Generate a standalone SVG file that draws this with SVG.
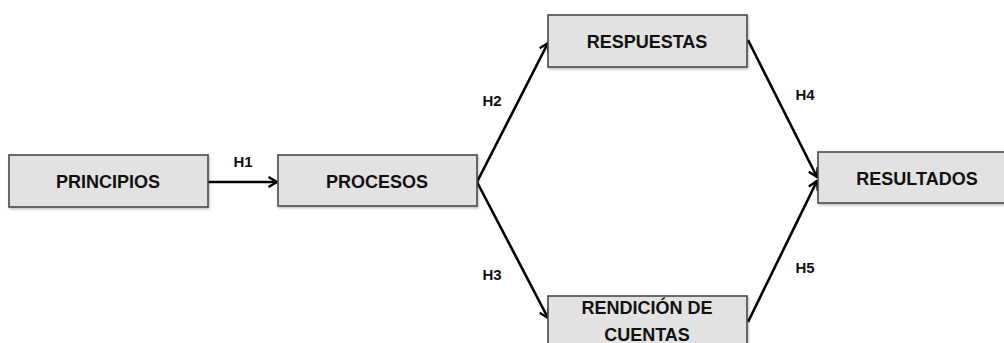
<svg xmlns="http://www.w3.org/2000/svg" width="1004" height="343" viewBox="0 0 1004 343">
  <style>
    .box { fill: #e2e2e2; stroke: #4a4a4a; stroke-width: 1.6; }
    .lbl { font-family: "Liberation Sans", Arial, sans-serif; font-weight: bold; font-size: 18px; fill: #111; text-anchor: middle; }
    .hyp { font-family: "Liberation Sans", Arial, sans-serif; font-weight: bold; font-size: 15px; fill: #111; text-anchor: middle; }
    .edge { stroke: #000; stroke-width: 2.6; fill: none; marker-end: url(#chev); }
  </style>
  <defs>
    <marker id="chev" viewBox="0 0 12 12" refX="10.5" refY="6" markerWidth="12" markerHeight="12" markerUnits="userSpaceOnUse" orient="auto">
      <path d="M2,1 L10.5,6 L2,11" fill="none" stroke="#000" stroke-width="2.4" stroke-linejoin="miter"/>
    </marker>
    <filter id="shade" x="-5%" y="-10%" width="110%" height="130%">
      <feDropShadow dx="1" dy="1.5" stdDeviation="0.8" flood-color="#000" flood-opacity="0.25"/>
    </filter>
  </defs>

  <g id="connectors">
    <line class="edge" x1="208" y1="182" x2="277" y2="182"/>
    <line class="edge" x1="477" y1="182" x2="548" y2="43"/>
    <line class="edge" x1="477" y1="182" x2="548" y2="318"/>
    <line class="edge" x1="748" y1="40" x2="817" y2="177"/>
    <line class="edge" x1="748" y1="322" x2="817" y2="181"/>
    <text class="hyp" x="243" y="167">H1</text>
    <text class="hyp" x="492" y="106">H2</text>
    <text class="hyp" x="492" y="280">H3</text>
    <text class="hyp" x="805" y="100">H4</text>
    <text class="hyp" x="805" y="273">H5</text>
  </g>

  <g id="principios">
    <rect class="box" filter="url(#shade)" x="9" y="155" width="199" height="52"/>
    <text class="lbl" x="108" y="188">PRINCIPIOS</text>
  </g>

  <g id="procesos">
    <rect class="box" filter="url(#shade)" x="278" y="155" width="199" height="51"/>
    <text class="lbl" x="377" y="188">PROCESOS</text>
  </g>

  <g id="respuestas">
    <rect class="box" filter="url(#shade)" x="548" y="15" width="199" height="52"/>
    <text class="lbl" x="647" y="48">RESPUESTAS</text>
  </g>

  <g id="rendicion">
    <rect class="box" filter="url(#shade)" x="548" y="296" width="199" height="60"/>
    <text class="lbl" x="647" y="314">RENDICIÓN DE</text>
    <text class="lbl" x="647" y="341">CUENTAS</text>
  </g>

  <g id="resultados">
    <rect class="box" filter="url(#shade)" x="818" y="152" width="200" height="51"/>
    <text class="lbl" x="917" y="185">RESULTADOS</text>
  </g>
</svg>
